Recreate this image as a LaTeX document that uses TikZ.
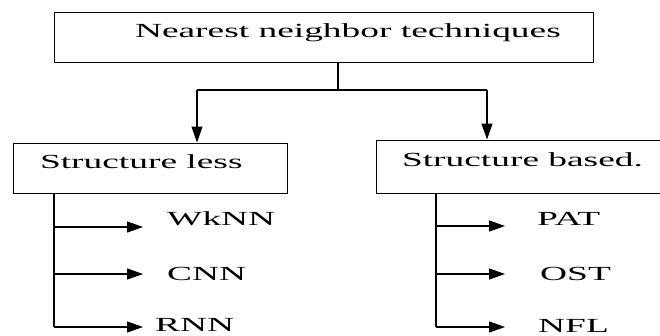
\documentclass[tikz,border=0pt]{standalone}
\usepackage{fontspec}
\setmainfont{Liberation Serif}
\usepackage{graphicx}
\usetikzlibrary{arrows.meta}
\newcommand{\stretchtxt}[1]{\scalebox{1.87}[1]{#1}}

\begin{document}
\begin{tikzpicture}[x=1pt,y=-1pt]
          %% NN TREE

          \tikzstyle{box}=[draw, line width=1pt, inner sep=0pt, minimum height=50pt, text height=15pt, text depth=15pt, font=\fontsize{20}{24}\selectfont]
          \tikzstyle{leaf}=[inner sep=0pt, anchor=base west, font=\fontsize{20}{24}\selectfont]
          \tikzstyle{line}=[draw, line width=1.1pt]
          \tikzstyle{arr}=[line, -{Triangle[length=16pt,width=11pt]}]

          \useasboundingbox (0,0) rectangle (660,335);
          \clip (0,0) rectangle (660,335);

          % racine
          \node[box, minimum width=539pt] (nnt) at (323.5,37)
                {\makebox[539pt][l]{\hspace{81pt}\stretchtxt{Nearest neighbor techniques}}};

          % deux familles
          \node[box, minimum width=274pt] (less) at (150,168)
                {\makebox[274pt][l]{\hspace{27pt}\stretchtxt{Structure less}}};
          \node[box, minimum width=304pt, minimum height=53pt] (based) at (528,166.5)
                {\makebox[304pt][l]{\hspace{26pt}\stretchtxt{Structure based.}}};

          % fourche
          \coordinate (jT) at (338,90);
          \coordinate (jL) at (197,90);
          \coordinate (jR) at (487,90);
          \draw[line] (nnt.south -| jT) -- (jT);
          \draw[line] (jL) -- (jR);
          \draw[arr] (jL) -- (jL |- less.north);
          \draw[arr] (jR) -- (jR |- based.north);

          % feuilles structure less
          \coordinate (tL) at (54,327);
          \draw[line] (less.south -| tL) -- (tL);
          \foreach \nm/\txt/\xx/\yy/\ay/\gap in {wknn/WkNN/167/225/227/24, cnn/CNN/167/280/274/24, rnn/RNN/155/331/327/12}{
            \node[leaf] (\nm) at (\xx,\yy) {\stretchtxt{\txt}};
            \coordinate (b\nm) at (54,\ay);
            \draw[arr, shorten >=\gap pt] (b\nm) -- (b\nm -| \nm.west);
          }

          % feuilles structure based
          \coordinate (tR) at (436,327);
          \draw[line] (based.south -| tR) -- (tR);
          \foreach \nm/\txt/\xx/\yy/\ay/\gap in {pat/PAT/537/225/226/32, ost/OST/540/280/274/35, nfl/NFL/538/332/327/33}{
            \node[leaf] (\nm) at (\xx,\yy) {\stretchtxt{\txt}};
            \coordinate (b\nm) at (436,\ay);
            \draw[arr, shorten >=\gap pt] (b\nm) -- (b\nm -| \nm.west);
          }

        \end{tikzpicture}
\end{document}
